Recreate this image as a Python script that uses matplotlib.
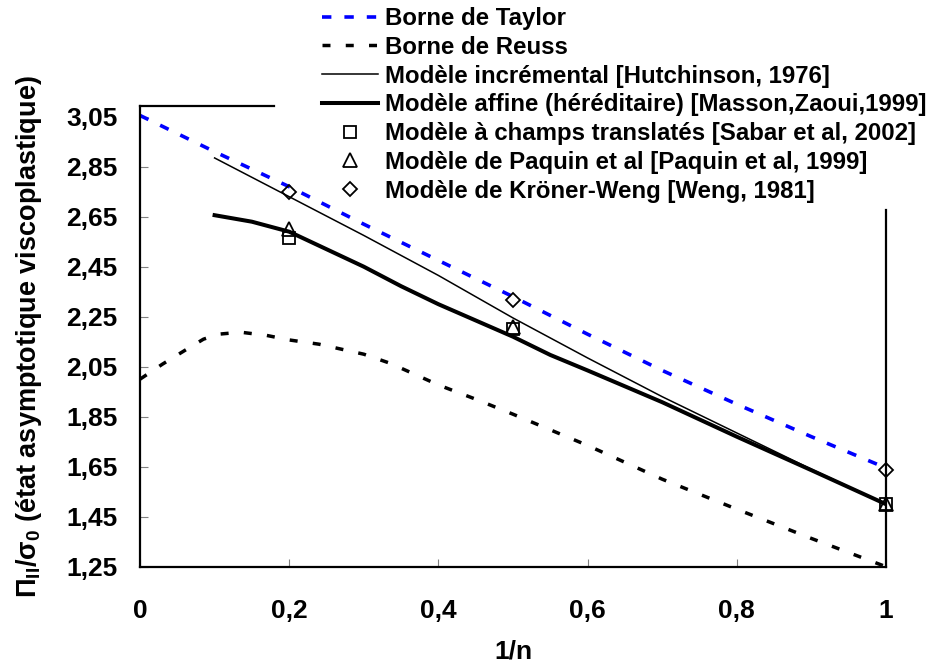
import numpy as np
import matplotlib
matplotlib.use("Agg")
import matplotlib.pyplot as plt

plt.rcParams['font.family'] = ['Liberation Sans', 'DejaVu Sans']
plt.rcParams['font.weight'] = 'bold'
plt.rcParams['mathtext.fontset'] = 'custom'
plt.rcParams['mathtext.rm'] = 'Liberation Sans:bold'
plt.rcParams['mathtext.it'] = 'Liberation Sans:bold'
plt.rcParams['mathtext.bf'] = 'Liberation Sans:bold'

# Borne de Taylor
x_taylor = [0, 0.1, 0.2, 0.3, 0.4, 0.5, 0.6, 0.7, 0.8, 0.9, 1.0]
y_taylor = [3.055, 2.91, 2.77, 2.62, 2.475, 2.33, 2.18, 2.035, 1.90, 1.77, 1.645]

# Borne de Reuss
x_reuss = [0, 0.03, 0.06, 0.085, 0.105, 0.135, 0.17, 0.2, 0.24, 0.27, 0.3, 0.335,
           0.365, 0.4, 0.45, 0.5, 0.6, 0.7, 0.8, 0.9, 1.0]
y_reuss = [2.0, 2.06, 2.115, 2.16, 2.18, 2.188, 2.175, 2.157, 2.14, 2.12, 2.10, 2.064,
           2.024, 1.977, 1.92, 1.86, 1.735, 1.60, 1.48, 1.363, 1.25]

# Modèle incrémental
x_hutch = [0.1, 0.2, 0.3, 0.4, 0.5, 0.6, 0.7, 0.8, 0.9, 1.0]
y_hutch = [2.885, 2.73, 2.575, 2.415, 2.245, 2.085, 1.93, 1.785, 1.64, 1.50]

# Modèle affine
x_affine = [0.1, 0.15, 0.2, 0.25, 0.3, 0.35, 0.4, 0.45, 0.5, 0.55, 0.6, 0.7, 0.8, 0.9, 1.0]
y_affine = [2.656, 2.63, 2.59, 2.52, 2.45, 2.372, 2.30, 2.235, 2.17, 2.097, 2.035, 1.908,
            1.77, 1.636, 1.50]

# points
x_pts = [0.2, 0.5, 1.0]
y_sabar = [2.563, 2.20, 1.499]
y_paquin = [2.602, 2.21, 1.50]
y_weng = [2.75, 2.318, 1.638]

yticks = [1.25, 1.45, 1.65, 1.85, 2.05, 2.25, 2.45, 2.65, 2.85, 3.05]
xticks = [0, 0.2, 0.4, 0.6, 0.8, 1.0]
xtick_labels = ['0', '0,2', '0,4', '0,6', '0,8', '1']

fig = plt.figure(figsize=(9.27, 6.69), dpi=100)
W, H = 927, 669
ax = fig.add_axes([140 / W, 1 - 566.7 / H, (886 - 140) / W, (566.7 - 105.7) / H])

l_taylor, = ax.plot(x_taylor, y_taylor, color='#0000ff', lw=2.6,
                    linestyle=(0, (2.6, 3.6)), label='Borne de Taylor')
l_reuss, = ax.plot(x_reuss, y_reuss, color='black', lw=2.5,
                   linestyle=(0, (2.3, 4.4)), label='Borne de Reuss')
l_hutch, = ax.plot(x_hutch, y_hutch, color='black', lw=1.1,
                   label='Modèle incrémental [Hutchinson, 1976]')
l_affine, = ax.plot(x_affine, y_affine, color='black', lw=2.9,
                    label='Modèle affine (héréditaire) [Masson,Zaoui,1999]')
m_sabar, = ax.plot(x_pts, y_sabar, ls='none', marker='s', ms=8.5, mfc='none', mec='black',
                   mew=1.3, clip_on=False, label='Modèle à champs translatés [Sabar et al, 2002]')
m_paquin, = ax.plot(x_pts, y_paquin, ls='none', marker='^', ms=10, mfc='none', mec='black',
                    mew=1.3, clip_on=False, label='Modèle de Paquin et al [Paquin et al, 1999]')
m_weng, = ax.plot(x_pts, y_weng, ls='none', marker='D', ms=7.5, mfc='none', mec='black',
                  mew=1.3, clip_on=False, label='Modèle de Kröner-Weng [Weng, 1981]')

ax.set_xlim(0, 1)
ax.set_ylim(1.25, 3.094)
ax.set_yticks(yticks)
ax.set_yticklabels([f"{v:.2f}".replace('.', ',') for v in yticks])
ax.set_xticks(xticks)
ax.set_xticklabels(xtick_labels)
ax.tick_params(axis='both', direction='in', length=6, width=0.8, colors='#808080',
               labelcolor='black', labelsize=19)
ax.tick_params(axis='y', pad=16)
ax.tick_params(axis='x', pad=23)
for s in ax.spines.values():
    s.set_linewidth(1.6)
    s.set_color('black')

# the legend box hides part of the frame in the original
ax.spines['top'].set_bounds(0, (274 - 140) / 746)
ax.spines['right'].set_bounds(1.25, 1.25 + (566.7 - 210) / 250)

ax.set_xlabel('1/n', fontsize=19, fontweight='bold', labelpad=12)
ax.set_ylabel(r'$\Pi_{II}/\sigma_{0}$ (état asymptotique viscoplastique)', fontsize=19.5,
              fontweight='bold', labelpad=16)

fig.legend(handles=[l_taylor, l_reuss, l_hutch, l_affine, m_sabar, m_paquin, m_weng],
           loc='upper left', bbox_to_anchor=(322 / W, 1 - 7 / H), frameon=False,
           borderpad=0, borderaxespad=0, handlelength=2.35, handletextpad=0.28,
           labelspacing=0.24, prop={'size': 17.3, 'weight': 'bold'})

fig.savefig('out.png', dpi=100)
